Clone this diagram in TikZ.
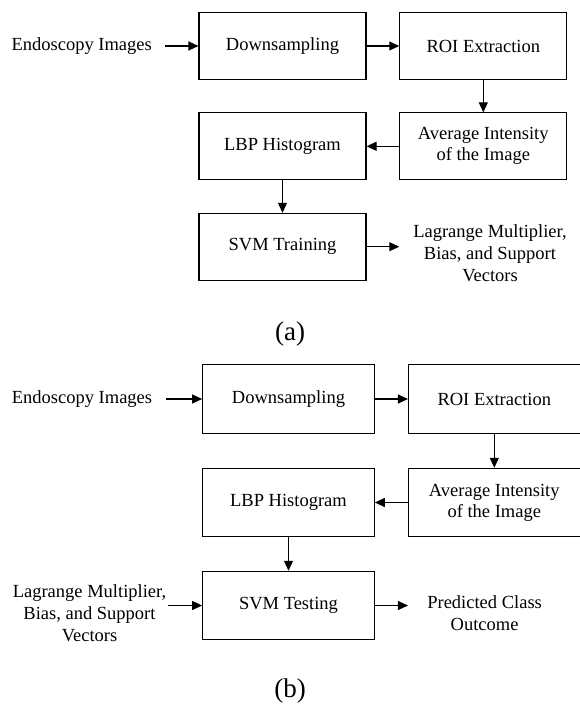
\documentclass[tikz,border=0pt]{standalone}
\usepackage{fontspec}
\setmainfont{Liberation Serif}
\usetikzlibrary{arrows.meta}
\begin{document}
\begin{tikzpicture}[x=1pt,y=-1pt,
  boxa/.style={draw, line width=1.1pt, minimum width=167pt, minimum height=66.7pt, inner sep=0pt, align=center, font=\fontsize{18.5}{21}\selectfont},
  boxb/.style={boxa, minimum width=171.6pt, minimum height=68.4pt},
  lbl/.style={inner sep=0pt, align=center, font=\fontsize{18.5}{22}\selectfont},
  arr/.style={-{Triangle[length=10pt,width=9pt]}, line width=1.1pt},
  capt/.style={inner sep=0pt, font=\fontsize{27}{30}\selectfont}]
\useasboundingbox (0,0) rectangle (580,706);
% ---------- (a) ----------
\node[boxa] (ds1)  at (282.5,46)    {Downsampling};
\node[boxa] (roi1) at (483.3,46)    {ROI Extraction};
\node[boxa] (avg1) at (483.3,146.3) {Average Intensity\\of the Image};
\node[boxa] (lbp1) at (282.5,146.3) {LBP Histogram};
\node[boxa] (svm1) at (282.5,246.7) {SVM Training};
\node[lbl] (in1)  at (81.7,46) {Endoscopy Images};
\node[lbl] (out1) at (490,253) {Lagrange Multiplier,\\Bias, and Support\\Vectors};
\node[capt] (capa) at (290,334) {(a)};
\draw[arr, shorten <=13pt] (in1.east) -- (ds1.west);
\draw[arr] (ds1.east) -- (roi1.west);
\draw[arr] (roi1.south) -- (avg1.north);
\draw[arr] (avg1.west) -- (lbp1.east);
\draw[arr] (lbp1.south) -- (svm1.north);
\draw[arr] (svm1.east) -- (svm1.east -| roi1.west);
% ---------- (b) ----------
\node[boxb] (ds2)  at (288.5,399)   {Downsampling};
\node[boxb] (roi2) at (494.3,399)   {ROI Extraction};
\node[boxb] (avg2) at (494.3,502.5) {Average Intensity\\of the Image};
\node[boxb] (lbp2) at (288.5,502.5) {LBP Histogram};
\node[boxb] (svm2) at (288.5,605.5) {SVM Testing};
\node[lbl] (in2)  at (82,399) {Endoscopy Images};
\node[lbl] (lag2) at (89.5,613.5) {Lagrange Multiplier,\\Bias, and Support\\Vectors};
\node[lbl] (pred2) at (484.6,613.6) {Predicted Class\\Outcome};
\node[capt] (capb) at (290,691) {(b)};
\draw[arr, shorten <=14pt] (in2.east) -- (ds2.west);
\draw[arr] (ds2.east) -- (roi2.west);
\draw[arr] (roi2.south) -- (avg2.north);
\draw[arr] (avg2.west) -- (lbp2.east);
\draw[arr] (lbp2.south) -- (svm2.north);
\draw[arr, shorten <=2pt] (lag2.east |- svm2.west) -- (svm2.west);
\draw[arr] (svm2.east) -- (svm2.east -| roi2.west);
\end{tikzpicture}
\end{document}
